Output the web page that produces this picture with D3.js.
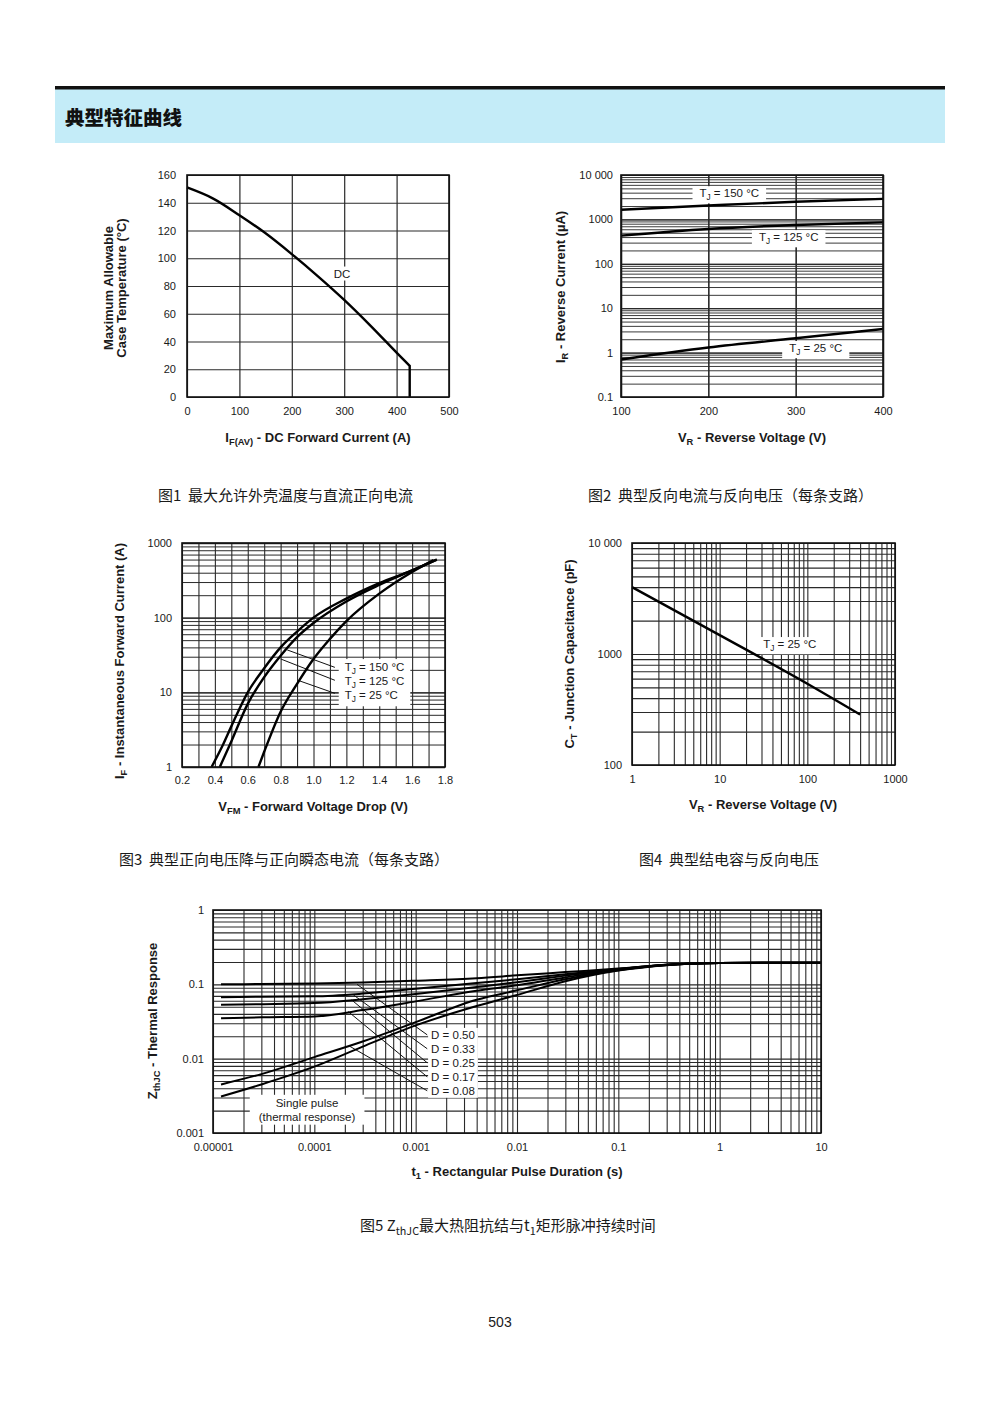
<!DOCTYPE html>
<html><head><meta charset="utf-8">
<script src="https://cdn.jsdelivr.net/npm/d3@7"></script>
<style>html,body{margin:0;padding:0;background:#fff;}svg{display:block;}</style>
</head><body>
<svg id="page" width="1000" height="1414"></svg>
<script>
// ================= DATA =================
const headerTitle = "典型特征曲线";
const pageNumber = "503";

// Fig 1
const fig1Current = [0, 50, 100, 150, 200, 250, 300, 350, 400, 425];
const fig1Temp = [151, 143, 131, 118, 103, 87, 70, 51.5, 32, 22.5];
const fig1DropTo = 0;
const fig1XTicks = [0, 100, 200, 300, 400, 500];
const fig1YTicks = [0, 20, 40, 60, 80, 100, 120, 140, 160];
const fig1Label = "DC";
const fig1LabelPos = [296, 89];
const fig1Caption = "图1  最大允许外壳温度与直流正向电流";

// Fig 2
const fig2Voltage = [100, 200, 300, 400];
const fig2Ir150 = [1650, 2050, 2500, 2900];
const fig2Ir125 = [430, 610, 750, 860];
const fig2Ir25 = [0.7, 1.3, 2.1, 3.4];
const fig2XTicks = [100, 200, 300, 400];
const fig2YTicks = [0.1, 1, 10, 100, 1000, 10000];
const fig2YTickLabels = ["0.1", "1", "10", "100", "1000", "10 000"];
const fig2LabelTemps = ["150", "125", "25"];
const fig2LabelV = [224, 292, 323];
const fig2LabelI = [3900, 400, 1.27];
const fig2Caption = "图2  典型反向电流与反向电压（每条支路）";

// Fig 3
const fig3V150 = [0.38, 0.45, 0.5, 0.6, 0.7, 0.8, 0.9, 1.0, 1.2, 1.4, 1.6, 1.75];
const fig3I150 = [1, 2, 3.5, 10, 21, 40, 65, 100, 180, 290, 430, 600];
const fig3V125 = [0.43, 0.5, 0.6, 0.7, 0.8, 0.9, 1.0, 1.2, 1.4, 1.6, 1.75];
const fig3I125 = [1, 2.2, 7, 16, 31, 55, 85, 165, 275, 430, 600];
const fig3V25 = [0.665, 0.7, 0.8, 0.9, 1.0, 1.1, 1.2, 1.4, 1.6, 1.73];
const fig3I25 = [1, 1.6, 5.5, 13, 28, 52, 90, 210, 410, 590];
const fig3XTicks = [0.2, 0.4, 0.6, 0.8, 1.0, 1.2, 1.4, 1.6, 1.8];
const fig3XTickLabels = ["0.2", "0.4", "0.6", "0.8", "1.0", "1.2", "1.4", "1.6", "1.8"];
const fig3XGrid = [0.2, 0.3, 0.4, 0.5, 0.6, 0.7, 0.8, 0.9, 1.0, 1.1, 1.2, 1.3, 1.4, 1.5, 1.6, 1.7, 1.8];
const fig3YTicks = [1, 10, 100, 1000];
const fig3YTickLabels = ["1", "10", "100", "1000"];
const fig3LabelTemps = ["150", "125", "25"];
const fig3LabelV = 1.19;
const fig3LabelI = [21.8, 14.2, 9.2];
const fig3LeaderStartV = [0.84, 0.80, 0.905];
const fig3LeaderStartI = [37, 28, 14.5];
const fig3LeaderEndV = 1.13;
const fig3LeaderEndI = [21.6, 14.5, 9.7];
const fig3Caption = "图3  典型正向电压降与正向瞬态电流（每条支路）";

// Fig 4
const fig4V = [1, 10, 100, 400];
const fig4C = [4000, 1480, 540, 285];
const fig4XTicks = [1, 10, 100, 1000];
const fig4XTickLabels = ["1", "10", "100", "1000"];
const fig4YTicks = [100, 1000, 10000];
const fig4YTickLabels = ["100", "1000", "10 000"];
const fig4LabelPos = [63, 1230];
const fig4Caption = "图4  典型结电容与反向电压";

// Fig 5
const fig5Time = [1.2e-5, 3e-5, 1e-4, 3e-4, 1e-3, 4e-3, 1e-2, 3e-2, 0.1, 0.3, 1, 3, 10];
const fig5D050 = [0.100, 0.101, 0.103, 0.106, 0.112, 0.121, 0.132, 0.146, 0.163, 0.184, 0.193, 0.195, 0.195];
const fig5D033 = [0.067, 0.068, 0.069, 0.075, 0.087, 0.104, 0.117, 0.137, 0.161, 0.183, 0.193, 0.195, 0.195];
const fig5D025 = [0.053, 0.054, 0.056, 0.063, 0.074, 0.092, 0.107, 0.131, 0.159, 0.183, 0.193, 0.195, 0.195];
const fig5D017 = [0.035, 0.036, 0.037, 0.045, 0.059, 0.082, 0.097, 0.124, 0.157, 0.182, 0.193, 0.195, 0.195];
const fig5D008 = [0.0045, 0.0062, 0.0105, 0.017, 0.031, 0.062, 0.083, 0.117, 0.155, 0.182, 0.193, 0.195, 0.195];
const fig5Single = [0.0031, 0.0045, 0.0078, 0.0145, 0.028, 0.051, 0.072, 0.110, 0.153, 0.181, 0.193, 0.195, 0.195];
const fig5XTicks = [1e-5, 1e-4, 1e-3, 1e-2, 0.1, 1, 10];
const fig5XTickLabels = ["0.00001", "0.0001", "0.001", "0.01", "0.1", "1", "10"];
const fig5YTicks = [0.001, 0.01, 0.1, 1];
const fig5YTickLabels = ["0.001", "0.01", "0.1", "1"];
const fig5DLabels = ["D = 0.50", "D = 0.33", "D = 0.25", "D = 0.17", "D = 0.08"];
const fig5LabelT = 1.42e-3;
const fig5LabelZ = [0.0209, 0.0136, 0.0088, 0.0057, 0.0037];
const fig5LeaderStartT = [2.64e-4, 2.43e-4, 2.33e-4, 2.16e-4, 2.25e-4];
const fig5LeaderStartZ = [0.1, 0.072, 0.0618, 0.043, 0.0146];
const fig5LeaderEndT = 1.3e-3;
const fig5SingleLabel = ["Single pulse", "(thermal response)"];
const fig5SingleLabelT = 8.47e-5;
const fig5SingleLabelZ = [0.00255, 0.00166];

// ================= DRAWING =================
const svg = d3.select("#page");
const LAT = "'Liberation Sans', Arial, Helvetica, sans-serif";
const CJK = "'Noto Sans CJK SC', sans-serif";
const GRID = "#2a2a2a";

function logGrid(lo, hi) {
  const out = [];
  for (let e = Math.floor(Math.log10(lo)) - 1; e <= Math.ceil(Math.log10(hi)); e++) {
    for (let n = 1; n <= 9; n++) {
      const v = +(n * Math.pow(10, e)).toPrecision(6);
      if (v >= lo * 0.999 && v <= hi * 1.001) out.push(v);
    }
  }
  return out;
}
function rich(sel, parts, size) {
  let shifted = false;
  parts.forEach(p => {
    const t = sel.append("tspan").text(p[0]);
    if (p[1]) {
      t.attr("font-size", size * 0.72);
      if (!shifted) { t.attr("dy", size * 0.28); shifted = true; }
    } else if (shifted) { t.attr("dy", -size * 0.28); shifted = false; }
  });
  return sel;
}
function gridX(g, x, vals, y0, y1, stroke, sw) {
  const gg = g.append("g").attr("transform", `translate(0,${y1})`)
    .call(d3.axisBottom(x).tickValues(vals).tickSize(-(y1 - y0)).tickFormat(""));
  gg.select(".domain").remove();
  gg.selectAll("line").attr("stroke", stroke).attr("stroke-width", sw);
}
function gridY(g, y, vals, x0, x1, stroke, sw) {
  const gg = g.append("g").attr("transform", `translate(${x0},0)`)
    .call(d3.axisLeft(y).tickValues(vals).tickSize(-(x1 - x0)).tickFormat(""));
  gg.select(".domain").remove();
  gg.selectAll("line").attr("stroke", stroke).attr("stroke-width", sw);
}
function labelsX(g, x, vals, labels, yb, pad) {
  const gg = g.append("g").attr("transform", `translate(0,${yb})`)
    .call(d3.axisBottom(x).tickValues(vals).tickSize(0).tickPadding(pad).tickFormat((d, i) => labels[i]));
  gg.select(".domain").remove();
  gg.selectAll("text").attr("font-family", LAT).attr("font-size", 11).attr("fill", "#1a1a1a");
}
function labelsY(g, y, vals, labels, xl, pad) {
  const gg = g.append("g").attr("transform", `translate(${xl},0)`)
    .call(d3.axisLeft(y).tickValues(vals).tickSize(0).tickPadding(pad).tickFormat((d, i) => labels[i]));
  gg.select(".domain").remove();
  gg.selectAll("text").attr("font-family", LAT).attr("font-size", 11).attr("fill", "#1a1a1a");
}
function frame(g, x0, y0, x1, y1) {
  g.append("rect").attr("x", x0).attr("y", y0).attr("width", x1 - x0).attr("height", y1 - y0)
    .attr("fill", "none").attr("stroke", "#111").attr("stroke-width", 1.6);
}
function whiteBox(group, px, py) {
  const b = group.node().getBBox();
  group.insert("rect", ":first-child").attr("x", b.x - px).attr("y", b.y - py)
    .attr("width", b.width + 2 * px).attr("height", b.height + 2 * py).attr("fill", "#fff");
}
function xTitle(g, parts, cx, cy) {
  const t = g.append("text").attr("x", cx).attr("y", cy).attr("dy", "0.35em").attr("text-anchor", "middle")
    .attr("font-family", LAT).attr("font-weight", 700).attr("font-size", 13).attr("fill", "#1a1a1a");
  rich(t, parts, 13);
}
function yTitle(g, parts, cx, cy) {
  const t = g.append("text").attr("transform", `translate(${cx},${cy}) rotate(-90)`).attr("dy", "0.35em")
    .attr("text-anchor", "middle").attr("font-family", LAT).attr("font-weight", 700).attr("font-size", 13).attr("fill", "#1a1a1a");
  rich(t, parts, 13);
}
function caption(parts, x, y) {
  const t = svg.append("text").attr("x", x).attr("y", y).attr("font-family", CJK).attr("font-size", 15)
    .attr("fill", "#1a1a1a").style("white-space", "pre");
  rich(t, parts, 15);
}
function tjLabel(g, temp, x, y, anchor) {
  const t = g.append("text").attr("x", x).attr("y", y).attr("dy", "0.35em").attr("text-anchor", anchor || "middle")
    .attr("font-family", LAT).attr("font-size", 11.5).attr("fill", "#1a1a1a");
  rich(t, [["T"], ["J", 1], [" = " + temp + " °C"]], 11.5);
  return t;
}
const zip = (a, b) => a.map((v, i) => [v, b[i]]);

// ---------- Header ----------
svg.append("rect").attr("x", 55).attr("y", 89).attr("width", 890).attr("height", 54).attr("fill", "#c4ecf8");
svg.append("rect").attr("x", 55).attr("y", 86).attr("width", 890).attr("height", 3.5).attr("fill", "#111");
svg.append("text").attr("x", 65).attr("y", 125).attr("font-family", CJK).attr("font-weight", 900)
  .attr("font-size", 19.5).attr("fill", "#111").text(headerTitle);

// ---------- Fig 1 ----------
{
  const g = svg.append("g");
  const X0 = 187, X1 = 449, Y0 = 175, Y1 = 397;
  const x = d3.scaleLinear().domain([0, 500]).range([X0, X1]);
  const y = d3.scaleLinear().domain([0, 160]).range([Y1, Y0]);
  gridX(g, x, fig1XTicks, Y0, Y1, GRID, 1.2);
  gridY(g, y, fig1YTicks, X0, X1, GRID, 1.2);
  const lg = g.append("g");
  lg.append("text").attr("x", x(fig1LabelPos[0])).attr("y", y(fig1LabelPos[1])).attr("dy", "0.35em")
    .attr("text-anchor", "middle").attr("font-family", LAT).attr("font-size", 11.5).attr("fill", "#1a1a1a").text(fig1Label);
  whiteBox(lg, 2, 1);
  const line = d3.line().x(d => x(d[0])).y(d => y(d[1])).curve(d3.curveCatmullRom.alpha(0.5));
  const last = fig1Current[fig1Current.length - 1];
  g.append("path").attr("d", line(zip(fig1Current, fig1Temp)) + `L${x(last)},${y(fig1DropTo)}`)
    .attr("fill", "none").attr("stroke", "#000").attr("stroke-width", 2.4);
  frame(g, X0, Y0, X1, Y1);
  labelsX(g, x, fig1XTicks, fig1XTicks.map(String), Y1, 10);
  labelsY(g, y, fig1YTicks, fig1YTicks.map(String), X0, 11);
  xTitle(g, [["I"], ["F(AV)", 1], [" - DC Forward Current (A)"]], (X0 + X1) / 2, 437);
  yTitle(g, [["Maximum Allowable"]], 108.5, 288);
  yTitle(g, [["Case Temperature (°C)"]], 121, 288);
}

// ---------- Fig 2 ----------
{
  const g = svg.append("g");
  const X0 = 621, X1 = 883, Y0 = 175, Y1 = 397;
  const x = d3.scaleLinear().domain([100, 400]).range([X0, X1]);
  const y = d3.scaleLog().domain([0.1, 10000]).range([Y1, Y0]);
  gridY(g, y, logGrid(0.1, 10000), X0, X1, "#3a3a3a", 1.0);
  gridY(g, y, fig2YTicks, X0, X1, GRID, 1.2);
  gridX(g, x, fig2XTicks, Y0, Y1, GRID, 1.6);
  fig2LabelTemps.forEach((tp, i) => {
    const lg = g.append("g");
    tjLabel(lg, tp, x(fig2LabelV[i]), y(fig2LabelI[i]));
    whiteBox(lg, 7, 1);
  });
  const line = d3.line().x(d => x(d[0])).y(d => y(d[1])).curve(d3.curveMonotoneX);
  [fig2Ir150, fig2Ir125, fig2Ir25].forEach(s => {
    g.append("path").attr("d", line(zip(fig2Voltage, s))).attr("fill", "none").attr("stroke", "#000").attr("stroke-width", 2.4);
  });
  frame(g, X0, Y0, X1, Y1);
  labelsX(g, x, fig2XTicks, fig2XTicks.map(String), Y1, 10);
  labelsY(g, y, fig2YTicks, fig2YTickLabels, X0, 8);
  xTitle(g, [["V"], ["R", 1], [" - Reverse Voltage (V)"]], 752, 437);
  yTitle(g, [["I"], ["R", 1], [" - Reverse Current (µA)"]], 560, 287);
}

// ---------- Fig 3 ----------
{
  const g = svg.append("g");
  const X0 = 182, X1 = 445, Y0 = 543, Y1 = 767;
  const x = d3.scaleLinear().domain([0.2, 1.8]).range([X0, X1]);
  const y = d3.scaleLog().domain([1, 1000]).range([Y1, Y0]);
  gridY(g, y, logGrid(1, 1000), X0, X1, GRID, 1.0);
  gridY(g, y, fig3YTicks, X0, X1, GRID, 1.3);
  gridX(g, x, fig3XGrid, Y0, Y1, GRID, 1.1);
  fig3LabelTemps.forEach((tp, i) => {
    g.append("line").attr("x1", x(fig3LeaderStartV[i])).attr("y1", y(fig3LeaderStartI[i]))
      .attr("x2", x(fig3LeaderEndV)).attr("y2", y(fig3LeaderEndI[i])).attr("stroke", "#111").attr("stroke-width", 1);
  });
  const lg = g.append("g");
  fig3LabelTemps.forEach((tp, i) => tjLabel(lg, tp, x(fig3LabelV), y(fig3LabelI[i]), "start"));
  whiteBox(lg, 6, 2);
  const line = d3.line().x(d => x(d[0])).y(d => y(d[1])).curve(d3.curveMonotoneX);
  [[fig3V150, fig3I150], [fig3V125, fig3I125], [fig3V25, fig3I25]].forEach(s => {
    g.append("path").attr("d", line(zip(s[0], s[1]))).attr("fill", "none").attr("stroke", "#000").attr("stroke-width", 2.4);
  });
  frame(g, X0, Y0, X1, Y1);
  labelsX(g, x, fig3XTicks, fig3XTickLabels, Y1, 9);
  labelsY(g, y, fig3YTicks, fig3YTickLabels, X0, 10);
  xTitle(g, [["V"], ["FM", 1], [" - Forward Voltage Drop (V)"]], 313, 806);
  yTitle(g, [["I"], ["F", 1], [" - Instantaneous Forward Current (A)"]], 119, 661);
}

// ---------- Fig 4 ----------
{
  const g = svg.append("g");
  const X0 = 632, X1 = 895, Y0 = 543, Y1 = 765;
  const x = d3.scaleLog().domain([1, 1000]).range([X0, X1]);
  const y = d3.scaleLog().domain([100, 10000]).range([Y1, Y0]);
  gridY(g, y, logGrid(100, 10000), X0, X1, GRID, 1.1);
  gridX(g, x, logGrid(1, 1000), Y0, Y1, GRID, 1.1);
  const lg = g.append("g");
  tjLabel(lg, "25", x(fig4LabelPos[0]), y(fig4LabelPos[1]));
  whiteBox(lg, 3, 1);
  const line = d3.line().x(d => x(d[0])).y(d => y(d[1])).curve(d3.curveMonotoneX);
  g.append("path").attr("d", line(zip(fig4V, fig4C))).attr("fill", "none").attr("stroke", "#000").attr("stroke-width", 2.4);
  frame(g, X0, Y0, X1, Y1);
  labelsX(g, x, fig4XTicks, fig4XTickLabels, Y1, 10);
  labelsY(g, y, fig4YTicks, fig4YTickLabels, X0, 10);
  xTitle(g, [["V"], ["R", 1], [" - Reverse Voltage (V)"]], 763, 804);
  yTitle(g, [["C"], ["T", 1], [" - Junction Capacitance (pF)"]], 569, 654);
}

// ---------- Fig 5 ----------
{
  const g = svg.append("g");
  const X0 = 213, X1 = 821, Y0 = 910, Y1 = 1133;
  const x = d3.scaleLog().domain([1e-5, 10]).range([X0, X1]);
  const y = d3.scaleLog().domain([0.001, 1]).range([Y1, Y0]);
  gridY(g, y, logGrid(0.001, 1), X0, X1, GRID, 1.1);
  gridX(g, x, logGrid(1e-5, 10), Y0, Y1, GRID, 1.1);
  fig5DLabels.forEach((lb, i) => {
    g.append("line").attr("x1", x(fig5LeaderStartT[i])).attr("y1", y(fig5LeaderStartZ[i]))
      .attr("x2", x(fig5LeaderEndT)).attr("y2", y(fig5LabelZ[i])).attr("stroke", "#111").attr("stroke-width", 1);
  });
  const dg = g.append("g");
  fig5DLabels.forEach((lb, i) => {
    dg.append("text").attr("x", x(fig5LabelT)).attr("y", y(fig5LabelZ[i])).attr("dy", "0.35em")
      .attr("font-family", LAT).attr("font-size", 11.5).attr("fill", "#1a1a1a").text(lb);
  });
  whiteBox(dg, 3, 1);
  const sg = g.append("g");
  fig5SingleLabel.forEach((lb, i) => {
    sg.append("text").attr("x", x(fig5SingleLabelT)).attr("y", y(fig5SingleLabelZ[i])).attr("dy", "0.35em")
      .attr("text-anchor", "middle").attr("font-family", LAT).attr("font-size", 11.5).attr("fill", "#1a1a1a").text(lb);
  });
  whiteBox(sg, 9, 2);
  const line = d3.line().x(d => x(d[0])).y(d => y(d[1])).curve(d3.curveMonotoneX);
  [fig5D050, fig5D033, fig5D025, fig5D017, fig5D008, fig5Single].forEach(s => {
    g.append("path").attr("d", line(zip(fig5Time, s))).attr("fill", "none").attr("stroke", "#000").attr("stroke-width", 2);
  });
  frame(g, X0, Y0, X1, Y1);
  labelsX(g, x, fig5XTicks, fig5XTickLabels, Y1, 10);
  labelsY(g, y, fig5YTicks, fig5YTickLabels, X0, 9);
  xTitle(g, [["t"], ["1", 1], [" - Rectangular Pulse Duration (s)"]], 517, 1171);
  yTitle(g, [["Z"], ["thJC", 1], [" - Thermal Response"]], 152, 1021);
}

// ---------- Captions ----------
caption([[fig1Caption]], 158, 501);
caption([[fig2Caption]], 588, 501);
caption([[fig3Caption]], 119, 865);
caption([[fig4Caption]], 639, 865);
caption([["图5 Z"], ["thJC", 1], ["最大热阻抗结与t"], ["1", 1], ["矩形脉冲持续时间"]], 360, 1231);
svg.append("text").attr("x", 500).attr("y", 1327).attr("text-anchor", "middle").attr("font-family", LAT)
  .attr("font-size", 14).attr("fill", "#1a1a1a").text(pageNumber);
</script>
</body></html>
